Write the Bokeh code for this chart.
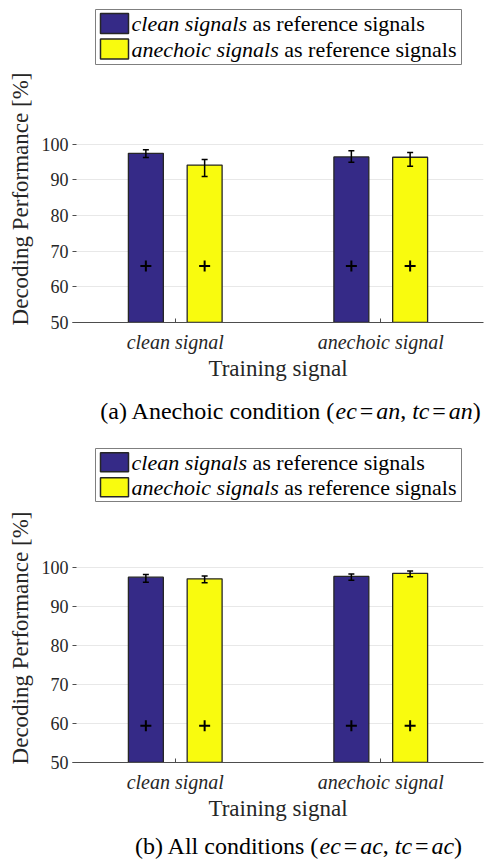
from bokeh.plotting import figure
from bokeh.layouts import column
from bokeh.models import Range1d, FixedTicker, ColumnDataSource, Whisker, TeeHead
from bokeh.core.properties import value
from bokeh.embed import file_html
from bokeh.resources import INLINE

# ---------------- data ----------------
categories = ["clean signal", "anechoic signal"]
series_italic = ["clean signals", "anechoic signals"]
series_rest = " as reference signals"
y_ticks = [50, 60, 70, 80, 90, 100]

# panel (a) anechoic condition
a_clean_ref = [97.4, 96.4]
a_clean_lo = [96.2, 94.9]
a_clean_hi = [98.4, 98.1]
a_anech_ref = [94.1, 96.3]
a_anech_lo = [90.9, 93.8]
a_anech_hi = [95.7, 97.6]
a_marker = [65.8, 65.8]

# panel (b) all conditions
b_clean_ref = [97.4, 97.6]
b_clean_lo = [96.1, 96.6]
b_clean_hi = [98.1, 98.2]
b_anech_ref = [97.0, 98.4]
b_anech_lo = [96.0, 97.5]
b_anech_hi = [97.7, 99.0]
b_marker = [59.4, 59.4]

# ---------------- style ----------------
FONT = "Liberation Serif"
COLORS = ["#352A87", "#F9FB0E"]
EDGE = "#262626"
AXIS = "#4d4d4d"
W = 488
FL, FR = 72, 5  # frame borders shared by all stacked figures

REG = {" ": 250, "(": 333, ")": 333, "[": 333, "]": 333, "%": 833, ",": 250, "=": 564,
       "a": 444, "b": 500, "c": 444, "d": 500, "e": 444, "f": 333, "g": 500, "h": 500,
       "i": 278, "l": 278, "m": 778, "n": 500, "o": 500, "r": 333, "s": 389, "t": 278,
       "A": 722, "D": 722, "P": 556, "T": 611}
ITA = {" ": 250, "a": 500, "c": 444, "e": 444, "g": 500, "h": 500, "i": 278, "l": 278,
       "n": 500, "o": 500, "s": 389, "t": 278}


def tw(s, size, italic=False):
    tab = ITA if italic else REG
    return sum(tab.get(ch, 500) for ch in s) / 1000.0 * size


def put_text(f, x, y, s, size, italic):
    # leading spaces are collapsed by SVG, so shift instead
    lead = len(s) - len(s.lstrip(" "))
    xs = x + tw(" " * lead, size, italic)
    kw = dict(text_font=value(FONT), text_font_size=f"{size}px", text_baseline="middle",
              text_align="left", text_color="black")
    if italic:
        kw["text_font_style"] = "italic"
    f.text(x=[xs], y=[y], text=[s.strip(" ")], **kw)


def blank_fig(height):
    # frame spans the same columns as the plot frames; x data = page pixel x
    f = figure(width=W, height=height, x_range=Range1d(FL, W - FR), y_range=Range1d(height, 0),
               min_border_left=FL, min_border_right=FR, min_border_top=0, min_border_bottom=0,
               toolbar_location=None, tools="", output_backend="svg",
               x_axis_type=None, y_axis_type=None)
    f.outline_line_color = None
    return f


def legend_fig(height, box_top, box_bot, row_y, sw_h):
    f = blank_fig(height)
    f.quad(left=[95], right=[461], top=[box_top], bottom=[box_bot],
           fill_color="white", line_color="#7f7f7f", line_width=1)
    size = 22
    for i, name in enumerate(series_italic):
        y = row_y[i]
        f.quad(left=[100], right=[128], top=[y - sw_h / 2], bottom=[y + sw_h / 2],
               fill_color=COLORS[i], line_color=EDGE, line_width=1.5)
        x0 = 131
        put_text(f, x0, y, name, size, True)
        put_text(f, x0 + tw(name, size, True), y, series_rest, size, False)
    return f


def caption_fig(height, cy, pieces, cx):
    f = blank_fig(height)
    size = 24
    gap = 0.12 * size
    widths = []
    for s, it in pieces:
        w = tw(s, size, it)
        if s == "=":
            w += 2 * gap
        widths.append(w)
    x = cx - sum(widths) / 2
    for (s, it), w in zip(pieces, widths):
        xs = x + gap if s == "=" else x
        put_text(f, xs, cy, s, size, it)
        x += w
    return f


def plot_fig(height, b_top, b_bot, y_end, refs, los, his, markers):
    p = figure(width=W, height=height, x_range=Range1d(0.5, 2.5), y_range=Range1d(50, y_end),
               min_border_left=FL, min_border_right=FR, min_border_top=b_top,
               min_border_bottom=b_bot, toolbar_location=None, tools="", output_backend="svg")
    p.outline_line_color = None
    offs = [-0.143, 0.143]
    for s in range(2):
        xs = [i + 1 + offs[s] for i in range(len(categories))]
        p.vbar(x=xs, top=refs[s], bottom=0, width=0.17, fill_color=COLORS[s],
               line_color=EDGE, line_width=1.3)
        src = ColumnDataSource(dict(x=xs, lo=los[s], hi=his[s]))
        wk = Whisker(base="x", lower="lo", upper="hi", source=src, dimension="height",
                     line_color="black", line_width=1.5, level="overlay",
                     upper_head=TeeHead(size=6, line_color="black", line_width=1.5),
                     lower_head=TeeHead(size=6, line_color="black", line_width=1.5))
        p.add_layout(wk)
        p.scatter(x=xs, y=markers, marker="cross", size=11, line_width=2, line_color="black")

    p.xgrid.visible = False
    p.ygrid.ticker = FixedTicker(ticks=y_ticks)
    p.ygrid.grid_line_color = "#e8e8e8"

    xa = p.xaxis[0]
    xa.ticker = FixedTicker(ticks=[1, 2])
    xa.major_label_overrides = {1: categories[0], 2: categories[1]}
    xa.axis_line_color = AXIS
    xa.major_tick_in = 4
    xa.major_tick_out = 0
    xa.major_tick_line_color = AXIS
    xa.minor_tick_line_color = None
    xa.major_label_text_font = FONT
    xa.major_label_text_font_size = "20px"
    xa.major_label_text_font_style = "italic"
    xa.major_label_text_color = "#262626"
    xa.major_label_standoff = 8
    xa.axis_label = "Training signal"
    xa.axis_label_text_font = FONT
    xa.axis_label_text_font_size = "23px"
    xa.axis_label_text_font_style = "normal"
    xa.axis_label_text_color = "#262626"
    xa.axis_label_standoff = 0

    ya = p.yaxis[0]
    ya.ticker = FixedTicker(ticks=y_ticks)
    ya.axis_line_color = None
    ya.major_tick_in = 4
    ya.major_tick_out = 0
    ya.major_tick_line_color = AXIS
    ya.minor_tick_line_color = None
    ya.major_label_text_font = FONT
    ya.major_label_text_font_size = "18px"
    ya.major_label_text_color = "#262626"
    ya.major_label_standoff = 4
    ya.axis_label = "Decoding Performance [%]"
    ya.axis_label_text_font = FONT
    ya.axis_label_text_font_size = "23px"
    ya.axis_label_text_font_style = "normal"
    ya.axis_label_text_color = "#262626"
    ya.axis_label_standoff = 6
    return p


cap_a = [("(a) Anechoic condition (", False), ("ec", True), ("=", False), ("an", True),
         (", ", False), ("tc", True), ("=", False), ("an", True), (")", False)]
cap_b = [("(b) All conditions (", False), ("ec", True), ("=", False), ("ac", True),
         (", ", False), ("tc", True), ("=", False), ("ac", True), (")", False)]

leg1 = legend_fig(70, 9, 64, [23, 48.5], 20)
p1 = plot_fig(313, 5, 56, 119.2, [a_clean_ref, a_anech_ref], [a_clean_lo, a_anech_lo],
              [a_clean_hi, a_anech_hi], a_marker)
c1 = caption_fig(54, 27, cap_a, 290)
leg2 = legend_fig(70, 11, 64, [24.7, 49.7], 19)
p2 = plot_fig(316, 6, 56, 113.7, [b_clean_ref, b_anech_ref], [b_clean_lo, b_anech_lo],
              [b_clean_hi, b_anech_hi], b_marker)
c2 = caption_fig(38, 22, cap_b, 298)

layout = column(leg1, p1, c1, leg2, p2, c2, spacing=0)
open("out.html", "w").write(file_html(layout, INLINE))
